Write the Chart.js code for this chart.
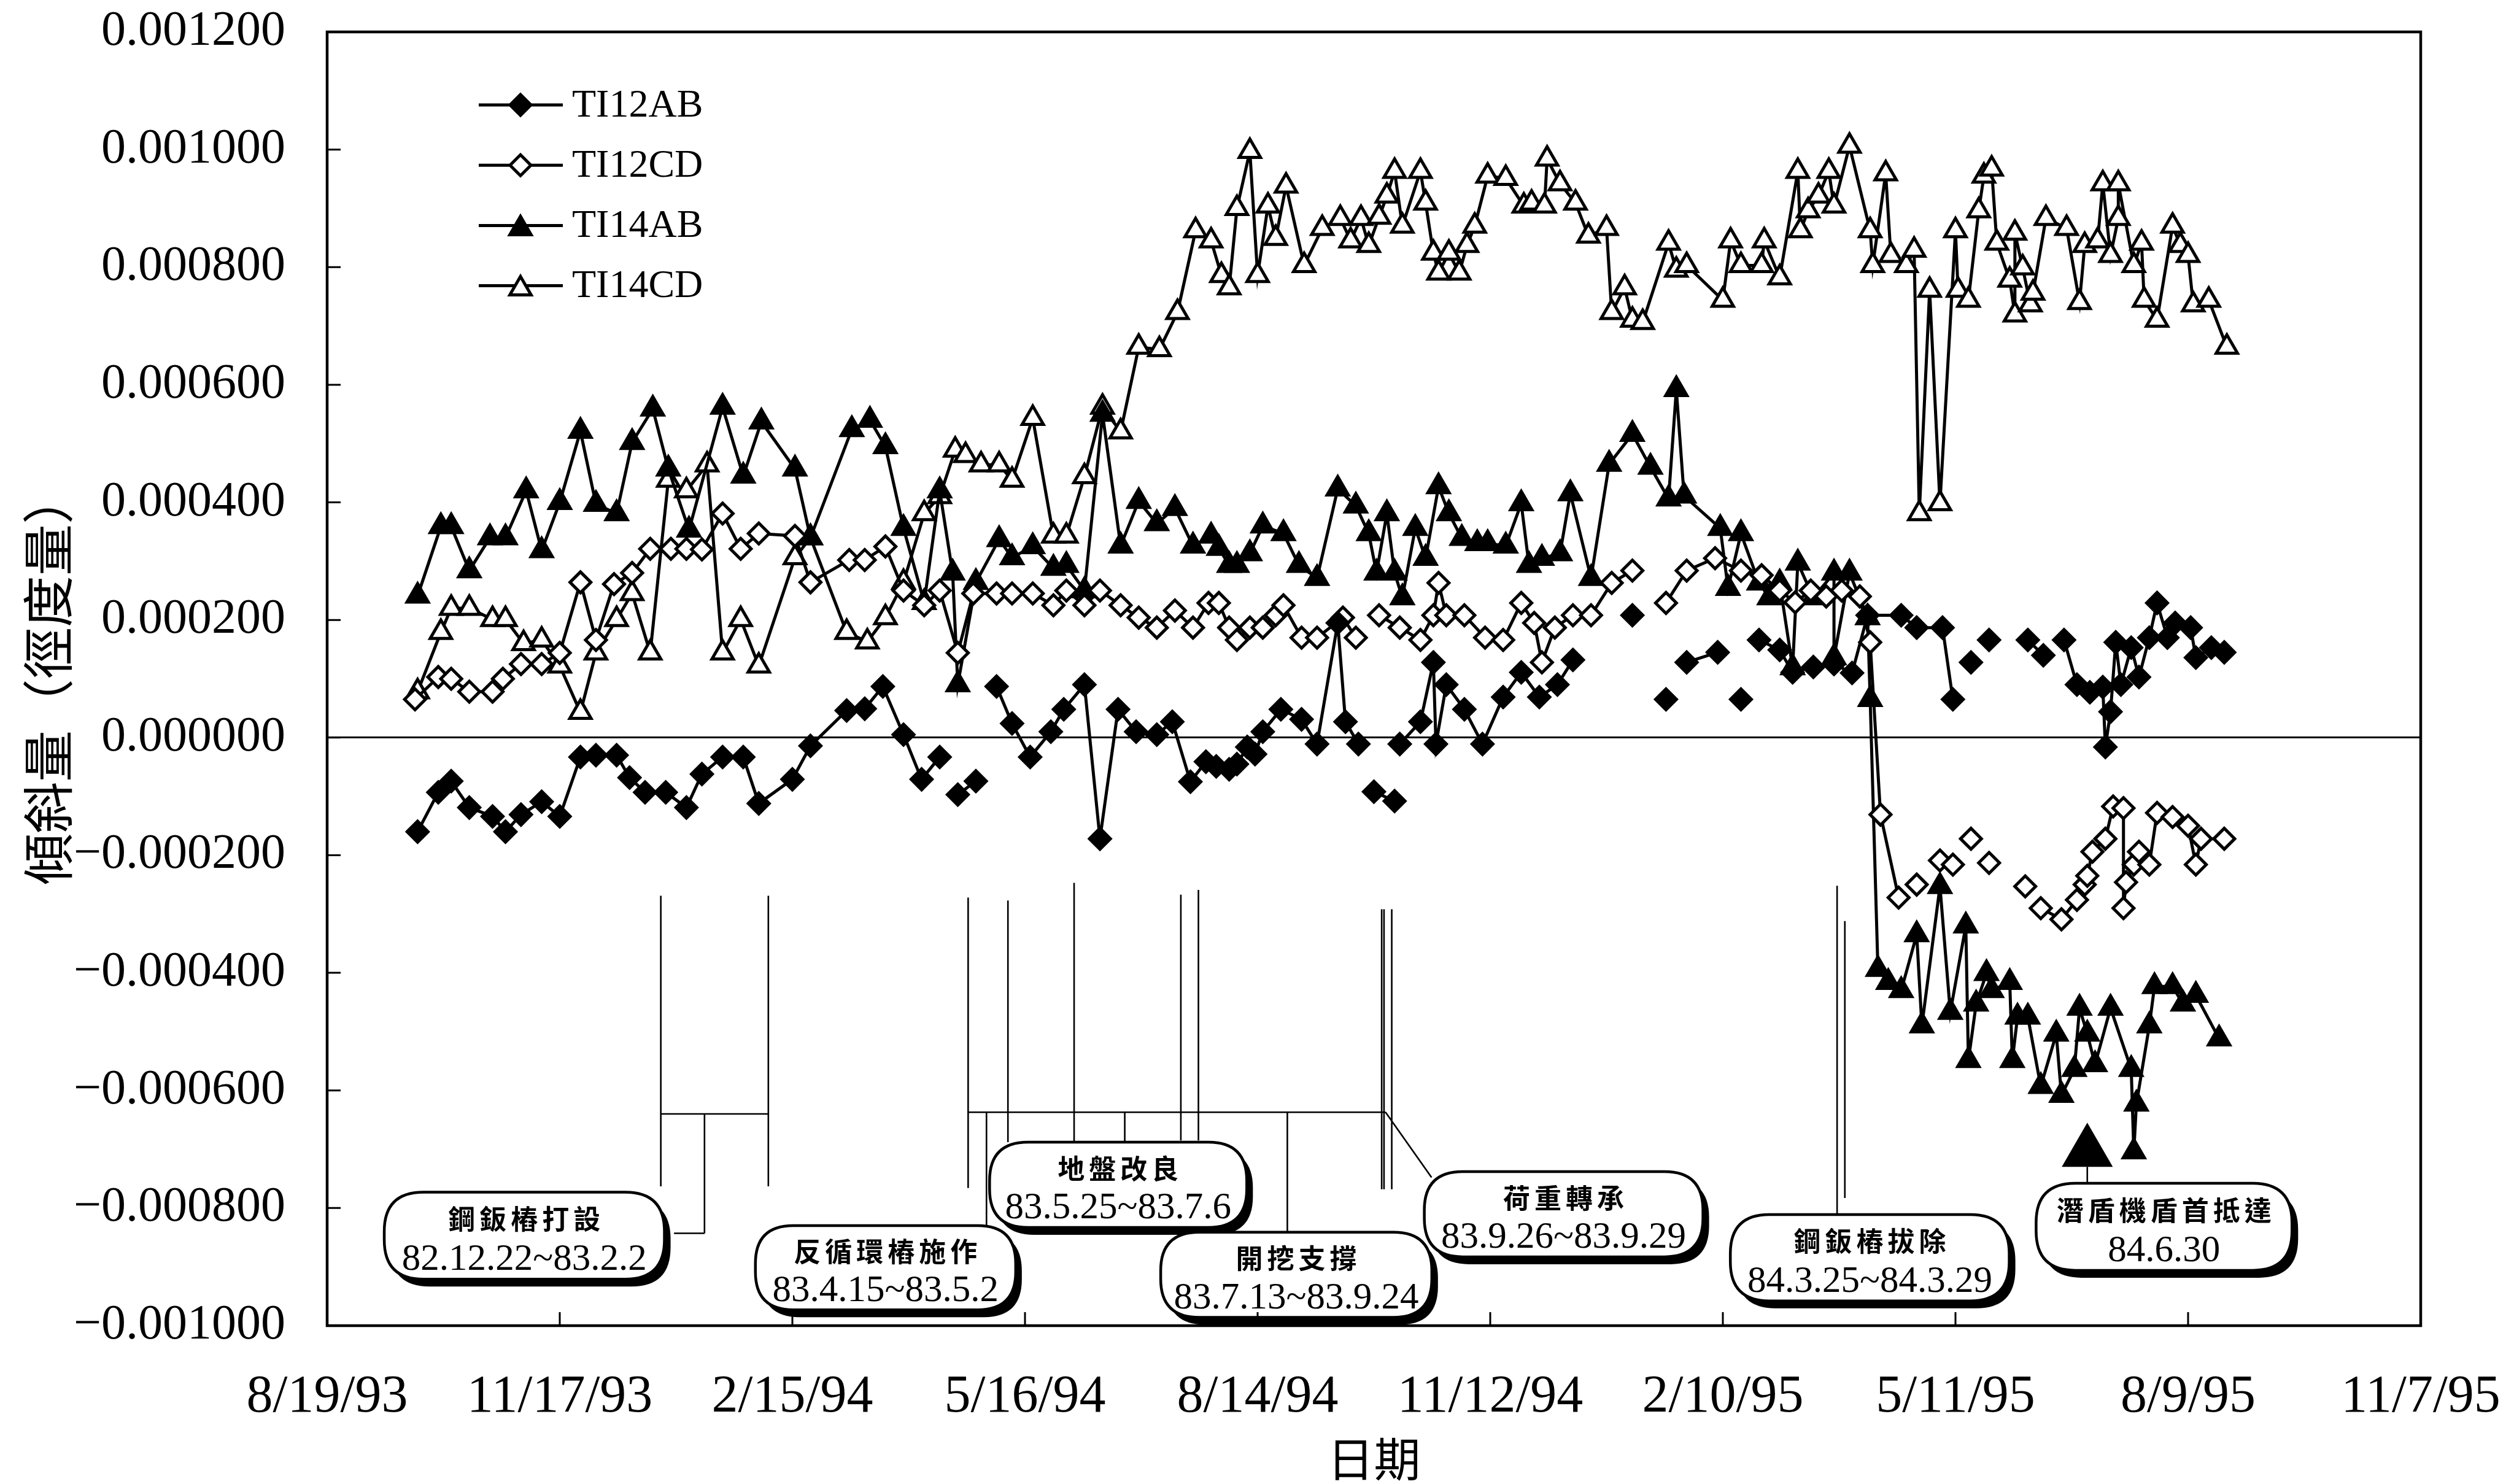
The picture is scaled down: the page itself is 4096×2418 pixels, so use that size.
<!DOCTYPE html>
<html>
<head>
<meta charset="utf-8">
<title>傾斜量 — TI12 / TI14</title>
<script src="https://cdn.jsdelivr.net/npm/chart.js@4/dist/chart.umd.min.js"></script>
<style>
  html, body { margin: 0; padding: 0; background: #fff; }
  canvas { display: block; }
</style>
</head>
<body>
<canvas id="tilt" width="4096" height="2418"></canvas>
<script>
// x values are days counted from 8/19/93; y values are tilt (radians)
const dateTicks = ['8/19/93', '11/17/93', '2/15/94', '5/16/94', '8/14/94', '11/12/94', '2/10/95', '5/11/95', '8/9/95', '11/7/95'];
const seriesNames = ['TI12AB', 'TI12CD', 'TI14AB', 'TI14CD'];

// [day, value]; a null value breaks the line where readings are missing
const ti12ab = [
  [35,-0.000160],[43,-0.000093],[48,-0.000074],[55,-0.000119],[64,-0.000134],[69,-0.000160],[75,-0.000131],[83,-0.000109],
  [90,-0.000134],[98,-0.000033],[104,-0.000030],[112,-0.000030],[117,-0.000068],[123,-0.000093],[131,-0.000093],[139,-0.000119],
  [145,-0.000062],[153,-0.000033],[161,-0.000033],[167,-0.000112],[180,-0.000071],[187,-0.000014],[201,0.000046],[208,0.000049],
  [215,0.000087],[223,0.000005],[230,-0.000071],[237,-0.000033],[240,null],[244,-0.000097],[251,-0.000074],[255,null],
  [259,0.000087],[265,0.000024],[272,-0.000033],[280,0.000010],[285,0.000048],[293,0.000090],[299,-0.000172],[306,0.000048],
  [313,0.000010],[321,0.000005],[327,0.000027],[334,-0.000075],[340,-0.000041],[344,-0.000049],[349,-0.000054],[352,-0.000045],
  [356,-0.000016],[359,-0.000028],[362,0.000010],[369,0.000048],[377,0.000031],[383,-0.000011],[391,0.000195],[394,0.000027],
  [399,-0.000011],[402,null],[405,-0.000092],[413,-0.000108],[414,null],[415,-0.000011],[423,0.000027],[428,0.000128],
  [429,-0.000011],[433,0.000090],[440,0.000048],[447,-0.000011],[455,0.000069],[462,0.000111],[469,0.000069],[476,0.000090],
  [482,0.000132],[494,null],[505,0.000208],[511,null],[518,0.000065],[522,null],[526,0.000128],[538,0.000145],[542,null],
  [547,0.000065],[550,null],[554,0.000166],[562,0.000149],[567,0.000111],[575,0.000120],[583,0.000125],[590,0.000110],
  [596,0.000208],[609,0.000208],[615,0.000187],[625,0.000187],[629,0.000065],[633,null],[636,0.000128],[640,null],
  [643,0.000166],[650,null],[658,0.000166],[664,0.000140],[668,null],[672,0.000166],[677,0.000090],[682,0.000077],
  [687,0.000086],[688,-0.000016],[690,0.000044],[692,0.000162],[694,0.000090],[698,0.000153],[701,0.000103],[705,0.000170],
  [708,0.000229],[712,0.000170],[715,0.000195],[721,0.000187],[723,0.000136],[729,0.000153],[734,0.000145]
];

const ti12cd = [
  [34,0.000065],[43,0.000103],[48,0.000100],[55,0.000078],[64,0.000078],[68,0.000100],[75,0.000125],[83,0.000125],
  [90,0.000144],[98,0.000264],[104,0.000166],[111,0.000261],[118,0.000280],[125,0.000321],[133,0.000321],[139,0.000321],
  [145,0.000320],[153,0.000381],[160,0.000321],[167,0.000347],[181,0.000343],[187,0.000264],[202,0.000302],[208,0.000302],
  [216,0.000325],[223,0.000250],[231,0.000225],[237,0.000250],[244,0.000144],[250,0.000245],[259,0.000245],[265,0.000245],
  [273,0.000245],[281,0.000225],[286,0.000250],[293,0.000225],[299,0.000250],[307,0.000225],[314,0.000204],[321,0.000187],
  [328,0.000216],[335,0.000187],[341,0.000229],[345,0.000229],[349,0.000187],[352,0.000166],[357,0.000187],[362,0.000187],
  [367,0.000208],[370,0.000225],[377,0.000170],[383,0.000170],[393,0.000204],[398,0.000170],[402,null],[407,0.000208],
  [415,0.000187],[423,0.000166],[428,0.000208],[430,0.000263],[433,0.000208],[440,0.000208],[448,0.000170],[455,0.000166],
  [462,0.000229],[467,0.000195],[470,0.000128],[475,0.000187],[482,0.000208],[489,0.000208],[497,0.000263],[505,0.000284],
  [511,null],[518,0.000229],[526,0.000284],[537,0.000305],[547,0.000284],[555,0.000276],[562,0.000250],[568,0.000230],
  [574,0.000250],[580,0.000240],[586,0.000250],[593,0.000240],[597,0.000162],[601,-0.000131],[608,-0.000272],[611,null],
  [615,-0.000250],[620,null],[624,-0.000209],[629,-0.000216],[632,null],[636,-0.000172],[640,null],[643,-0.000213],
  [650,null],[657,-0.000253],[660,null],[663,-0.000290],[671,-0.000309],[677,-0.000276],[680,-0.000250],[681,-0.000235],
  [683,-0.000194],[688,-0.000172],[691,-0.000117],[695,-0.000120],[695,-0.000290],[696,-0.000246],[699,-0.000216],
  [701,-0.000194],[705,-0.000216],[708,-0.000128],[714,-0.000135],[720,-0.000150],[723,-0.000216],[725,-0.000172],
  [734,-0.000172]
];

const ti14ab = [
  [35,0.000241],[44,0.000359],[48,0.000359],[55,0.000284],[63,0.000340],[69,0.000340],[77,0.000420],[83,0.000318],
  [90,0.000400],[98,0.000521],[104,0.000397],[112,0.000381],[118,0.000502],[126,0.000559],[132,0.000457],[140,0.000353],
  [153,0.000562],[161,0.000445],[168,0.000537],[181,0.000457],[187,0.000340],[203,0.000524],[210,0.000540],[216,0.000495],
  [223,0.000356],[231,0.000230],[237,0.000420],[242,0.000280],[244,0.000090],[251,0.000264],[260,0.000337],[265,0.000306],
  [273,0.000325],[281,0.000288],[286,0.000293],[293,0.000250],[300,0.000550],[307,0.000326],[314,0.000402],[321,0.000364],
  [328,0.000390],[335,0.000326],[342,0.000343],[345,0.000322],[349,0.000293],[352,0.000293],[357,0.000313],[362,0.000360],
  [370,0.000347],[376,0.000293],[383,0.000271],[391,0.000423],[398,0.000394],[403,0.000347],[406,0.000280],[410,0.000381],
  [413,0.000280],[416,0.000238],[421,0.000356],[425,0.000305],[430,0.000427],[434,0.000381],[439,0.000339],[445,0.000330],
  [449,0.000330],[456,0.000326],[462,0.000398],[465,0.000293],[470,0.000305],[477,0.000313],[481,0.000415],[489,0.000271],
  [496,0.000465],[505,0.000516],[512,0.000460],[519,0.000406],[522,0.000592],[525,0.000411],[539,0.000356],[542,0.000254],
  [547,0.000347],[554,0.000263],[558,0.000238],[562,0.000263],[567,0.000119],[569,0.000297],[575,0.000238],[583,0.000280],
  [583,0.000136],[589,0.000280],[596,0.000204],[597,0.000065],[600,-0.000394],[604,-0.000416],[609,-0.000430],[615,-0.000335],
  [617,-0.000490],[624,-0.000253],[628,-0.000467],[634,-0.000320],[635,-0.000549],[638,-0.000453],[642,-0.000401],
  [644,-0.000430],[651,-0.000416],[652,-0.000549],[654,-0.000475],[658,-0.000475],[663,-0.000593],[669,-0.000504],
  [671,-0.000608],[676,-0.000564],[678,-0.000460],[681,-0.000504],[684,-0.000556],[690,-0.000460],[698,-0.000564],
  [699,-0.000704],[700,-0.000623],[705,-0.000490],[707,-0.000423],[714,-0.000423],[718,-0.000453],[723,-0.000438],
  [732,-0.000512]
];

const ti14cd = [
  [35,0.000078],[44,0.000179],[48,0.000220],[55,0.000220],[64,0.000201],[69,0.000201],[76,0.000160],[83,0.000166],
  [90,0.000122],[98,0.000043],[104,0.000144],[112,0.000201],[118,0.000245],[125,0.000144],[132,0.000438],[139,0.000420],
  [147,0.000464],[153,0.000144],[160,0.000201],[167,0.000122],[181,0.000306],[187,0.000340],[201,0.000179],[209,0.000163],
  [216,0.000204],[223,0.000264],[231,0.000381],[237,0.000410],[243,0.000489],[247,0.000480],[253,0.000464],[260,0.000464],
  [265,0.000438],[273,0.000543],[281,0.000343],[286,0.000343],[293,0.000444],[300,0.000562],[307,0.000520],[314,0.000664],
  [322,0.000660],[329,0.000723],[336,0.000862],[342,0.000845],[346,0.000786],[349,0.000765],[352,0.000900],[357,0.000997],
  [360,0.000786],[364,0.000904],[367,0.000849],[371,0.000938],[378,0.000803],[385,0.000866],[392,0.000883],[396,0.000845],
  [400,0.000883],[403,0.000837],[407,0.000885],[410,0.000921],[413,0.000963],[416,0.000870],[423,0.000963],[425,0.000909],
  [428,0.000824],[430,0.000790],[434,0.000824],[438,0.000790],[441,0.000837],[444,0.000870],[449,0.000955],[456,0.000951],
  [463,0.000904],[466,0.000909],[471,0.000904],[472,0.000984],[477,0.000942],[483,0.000909],[488,0.000853],[495,0.000866],
  [497,0.000723],[502,0.000765],[505,0.000710],[509,0.000706],[519,0.000841],[522,0.000795],[526,0.000803],[540,0.000744],
  [543,0.000845],[547,0.000803],[555,0.000803],[556,0.000845],[562,0.000782],[569,0.000963],[570,0.000862],[573,0.000896],
  [577,0.000921],[581,0.000963],[583,0.000904],[589,0.001006],[597,0.000862],[598,0.000803],[603,0.000959],[605,0.000820],
  [611,0.000803],[614,0.000829],[616,0.000381],[620,0.000761],[624,0.000398],[630,0.000862],[631,0.000761],[635,0.000744],
  [639,0.000896],[641,0.000955],[644,0.000967],[646,0.000841],[651,0.000778],[653,0.000719],[653,0.000858],[656,0.000799],
  [659,0.000736],[660,0.000756],[665,0.000883],[673,0.000866],[678,0.000740],[680,0.000837],[685,0.000845],[687,0.000942],
  [690,0.000820],[693,0.000883],[693,0.000942],[699,0.000803],[702,0.000841],[703,0.000744],[708,0.000710],[714,0.000870],
  [717,0.000837],[720,0.000820],[722,0.000736],[728,0.000744],[735,0.000664]
];

// shield-machine arrival (84.6.30)
const arrival = [[681, -0.000705]];

// construction stages: label, period, box extent [dayFrom, dayTo, valueTop, valueBottom]
const stageNotes = [
  { title: '鋼鈑樁打設',   period: '82.12.22~83.2.2',  box: [22.1, 130.5, -0.000773, -0.000921] },
  { title: '反循環樁施作', period: '83.4.15~83.5.2',   box: [165.7, 266.4, -0.000830, -0.000973] },
  { title: '地盤改良',     period: '83.5.25~83.7.6',   box: [256.3, 355.8, -0.000688, -0.000833] },
  { title: '開挖支撐',     period: '83.7.13~83.9.24',  box: [322.5, 427.4, -0.000841, -0.000986] },
  { title: '荷重轉承',     period: '83.9.26~83.9.29',  box: [424.5, 532.3, -0.000738, -0.000883] },
  { title: '鋼鈑樁拔除',   period: '84.3.25~84.3.29',  box: [542.9, 650.8, -0.000811, -0.000958] },
  { title: '潛盾機盾首抵達', period: '84.6.30',        box: [661.2, 760.2, -0.000758, -0.000906] }
];

// leader lines tying each stage to its dates: [day1, value1, day2, value2]
const stageLines = [
  [129.1,-0.000269,129.1,-0.000763],[170.7,-0.000269,170.7,-0.000763],[129.1,-0.000640,170.7,-0.000640],
  [146.0,-0.000640,146.0,-0.000843],[134.2,-0.000843,146.0,-0.000843],
  [248.0,-0.000272,248.0,-0.000766],[263.4,-0.000277,263.4,-0.000688],[255.1,-0.000637,255.1,-0.000830],
  [248.0,-0.000637,409.5,-0.000637],[289.0,-0.000247,289.0,-0.000688],[308.6,-0.000637,308.6,-0.000688],
  [330.3,-0.000267,330.3,-0.000685],[337.1,-0.000259,337.1,-0.000685],[371.5,-0.000637,371.5,-0.000841],
  [408.0,-0.000292,408.0,-0.000768],[408.9,-0.000292,408.9,-0.000768],[411.9,-0.000292,411.9,-0.000768],
  [409.5,-0.000637,427.3,-0.000748],
  [584.2,-0.000252,584.2,-0.000811],[587.2,-0.000312,587.2,-0.000783],
  [681.0,-0.000730,681.0,-0.000758]
];

// plot-area placement on the canvas
const plotBox = { left: 533, top: 52, right: 3944, bottom: 2160 };

const toPoints = pairs => pairs.map(([d, v]) => ({ x: d, y: v }));

function series(label, pairs, style, filled) {
  return {
    label,
    data: toPoints(pairs),
    borderColor: '#000',
    borderWidth: 5,
    pointStyle: style,
    pointRadius: style === 'triangle' ? 20 : 17,
    pointBorderWidth: 5,
    pointBorderColor: '#000',
    pointBackgroundColor: filled ? '#000' : '#fff',
    tension: 0,
    spanGaps: false,
    fill: false
  };
}

function markerPath(ctx, style, x, y, r) {
  ctx.beginPath();
  if (style === 'triangle') {
    ctx.moveTo(x, y - r);
    ctx.lineTo(x + 0.866 * r, y + 0.5 * r);
    ctx.lineTo(x - 0.866 * r, y + 0.5 * r);
  } else {
    ctx.moveTo(x - r, y);
    ctx.lineTo(x, y - r);
    ctx.lineTo(x + r, y);
    ctx.lineTo(x, y + r);
  }
  ctx.closePath();
}

function roundedBox(ctx, x, y, w, h, r) {
  ctx.beginPath();
  ctx.moveTo(x + r, y);
  ctx.lineTo(x + w - r, y);
  ctx.quadraticCurveTo(x + w, y, x + w, y + r);
  ctx.lineTo(x + w, y + h - r);
  ctx.quadraticCurveTo(x + w, y + h, x + w - r, y + h);
  ctx.lineTo(x + r, y + h);
  ctx.quadraticCurveTo(x, y + h, x, y + h - r);
  ctx.lineTo(x, y + r);
  ctx.quadraticCurveTo(x, y, x + r, y);
  ctx.closePath();
}

// stage boxes and their leader lines, under the data
const stagePlugin = {
  id: 'stages',
  beforeDatasetsDraw(chart) {
    const { ctx, scales: { x, y } } = chart;
    ctx.save();
    ctx.strokeStyle = '#000';
    ctx.lineWidth = 2.6;
    ctx.beginPath();
    for (const [d1, v1, d2, v2] of stageLines) {
      ctx.moveTo(x.getPixelForValue(d1), y.getPixelForValue(v1));
      ctx.lineTo(x.getPixelForValue(d2), y.getPixelForValue(v2));
    }
    ctx.stroke();

    for (const n of stageNotes) {
      const [d1, d2, vTop, vBot] = n.box;
      const left = x.getPixelForValue(d1), right = x.getPixelForValue(d2);
      const top = y.getPixelForValue(vTop), bottom = y.getPixelForValue(vBot);
      const w = right - left, h = bottom - top, r = Math.min(h * 0.45, w / 2);
      ctx.fillStyle = '#000';
      roundedBox(ctx, left + 10, top + 12, w, h, r);
      ctx.fill();
      ctx.fillStyle = '#fff';
      roundedBox(ctx, left, top, w, h, r);
      ctx.fill();
      ctx.lineWidth = 4.5;
      ctx.stroke();

      const cx = left + w / 2;
      ctx.fillStyle = '#000';
      ctx.textAlign = 'center';
      ctx.textBaseline = 'middle';
      ctx.font = "bold 44px 'Noto Sans CJK TC', 'Noto Sans CJK SC', sans-serif";
      ctx.letterSpacing = '7px';
      ctx.fillText(n.title, cx + 3.5, top + h * 0.31);
      ctx.letterSpacing = '0px';
      ctx.font = "61px 'Liberation Serif', serif";
      ctx.fillText(n.period, cx, top + h * 0.78);
    }
    ctx.restore();
  }
};

// plot frame, inward tick marks and the series key
const framePlugin = {
  id: 'frame',
  afterDraw(chart) {
    const { ctx, chartArea: a, scales: { x, y } } = chart;
    ctx.save();
    ctx.strokeStyle = '#000';
    ctx.lineWidth = 4.5;
    ctx.strokeRect(a.left, a.top, a.right - a.left, a.bottom - a.top);
    ctx.lineWidth = 3;
    ctx.beginPath();
    for (const t of x.ticks) {
      const px = x.getPixelForValue(t.value);
      ctx.moveTo(px, a.bottom);
      ctx.lineTo(px, a.bottom - 22);
    }
    for (const t of y.ticks) {
      const py = y.getPixelForValue(t.value);
      ctx.moveTo(a.left, py);
      ctx.lineTo(a.left + 22, py);
    }
    ctx.stroke();

    // series key
    const keyLeft = a.left + 247, keyTop = a.top + 119, rowGap = 98.2;
    chart.data.datasets.slice(0, seriesNames.length).forEach((ds, i) => {
      const ry = keyTop + i * rowGap;
      ctx.strokeStyle = '#000';
      ctx.lineWidth = 5;
      ctx.beginPath();
      ctx.moveTo(keyLeft, ry);
      ctx.lineTo(keyLeft + 137, ry);
      ctx.stroke();
      const my = ds.pointStyle === 'triangle' ? ry + ds.pointRadius / 4 : ry;
      markerPath(ctx, ds.pointStyle, keyLeft + 68, my, ds.pointRadius);
      ctx.fillStyle = ds.pointBackgroundColor;
      ctx.fill();
      ctx.lineWidth = ds.pointBorderWidth;
      ctx.stroke();
      ctx.fillStyle = '#000';
      ctx.font = "64px 'Liberation Serif', serif";
      ctx.textAlign = 'left';
      ctx.textBaseline = 'middle';
      ctx.fillText(ds.label, keyLeft + 152, ry + 2);
    });
    ctx.restore();
  }
};

const fmtTilt = v => {
  const n = Math.abs(v) < 1e-12 ? 0 : v;
  const s = Math.abs(n).toFixed(6);
  return n < 0 ? '\u2212' + s : s;
};

new Chart(document.getElementById('tilt'), {
  type: 'line',
  data: {
    datasets: [
      series(seriesNames[0], ti12ab, 'rectRot', true),
      series(seriesNames[1], ti12cd, 'rectRot', false),
      series(seriesNames[2], ti14ab, 'triangle', true),
      series(seriesNames[3], ti14cd, 'triangle', false),
      {
        label: '潛盾機盾首抵達',
        data: toPoints(arrival),
        showLine: false,
        pointStyle: 'triangle',
        pointRadius: 46,
        pointBorderWidth: 2,
        pointBorderColor: '#000',
        pointBackgroundColor: '#000'
      }
    ]
  },
  options: {
    responsive: false,
    devicePixelRatio: 1,
    animation: false,
    events: [],
    layout: { padding: { top: plotBox.top, right: 4096 - plotBox.right, left: 0, bottom: 0 } },
    plugins: { legend: { display: false }, tooltip: { enabled: false } },
    scales: {
      x: {
        type: 'linear',
        min: 0,
        max: 810,
        // fixed band under the plot; end labels may overhang into the side margins
        afterFit: s => { s.height = 2418 - plotBox.bottom; s.paddingLeft = 0; s.paddingRight = 0; },
        grid: { display: false, drawTicks: false },
        border: { display: false },
        ticks: {
          stepSize: 90,
          autoSkip: false,
          maxRotation: 0,
          padding: 66,
          color: '#000',
          font: { family: "'Liberation Serif', serif", size: 86 },
          callback: v => dateTicks[Math.round(v / 90)] ?? ''
        },
        title: {
          display: true,
          text: '日期',
          color: '#000',
          font: { family: "'Noto Sans CJK TC', 'Noto Sans CJK SC', sans-serif", size: 76, lineHeight: 1 },
          padding: { top: 0, bottom: 3 }
        }
      },
      y: {
        min: -0.001,
        max: 0.0012,
        afterFit: s => { s.width = plotBox.left; s.paddingTop = 0; s.paddingBottom = 0; },
        grid: {
          drawTicks: false,
          color: c => (c.tick && Math.abs(c.tick.value) < 1e-12 ? '#000' : 'rgba(0,0,0,0)'),
          lineWidth: 3
        },
        border: { display: false },
        ticks: {
          stepSize: 0.0002,
          padding: 68,
          color: '#000',
          font: { family: "'Liberation Serif', serif", size: 80 },
          callback: v => fmtTilt(v)
        },
        title: {
          display: true,
          text: '傾斜量（徑度量）',
          color: '#000',
          font: { family: "'Noto Sans CJK TC', 'Noto Sans CJK SC', sans-serif", size: 84, lineHeight: 1 },
          padding: { top: 36, bottom: 0 }
        }
      }
    }
  },
  plugins: [stagePlugin, framePlugin]
});
</script>
</body>
</html>
